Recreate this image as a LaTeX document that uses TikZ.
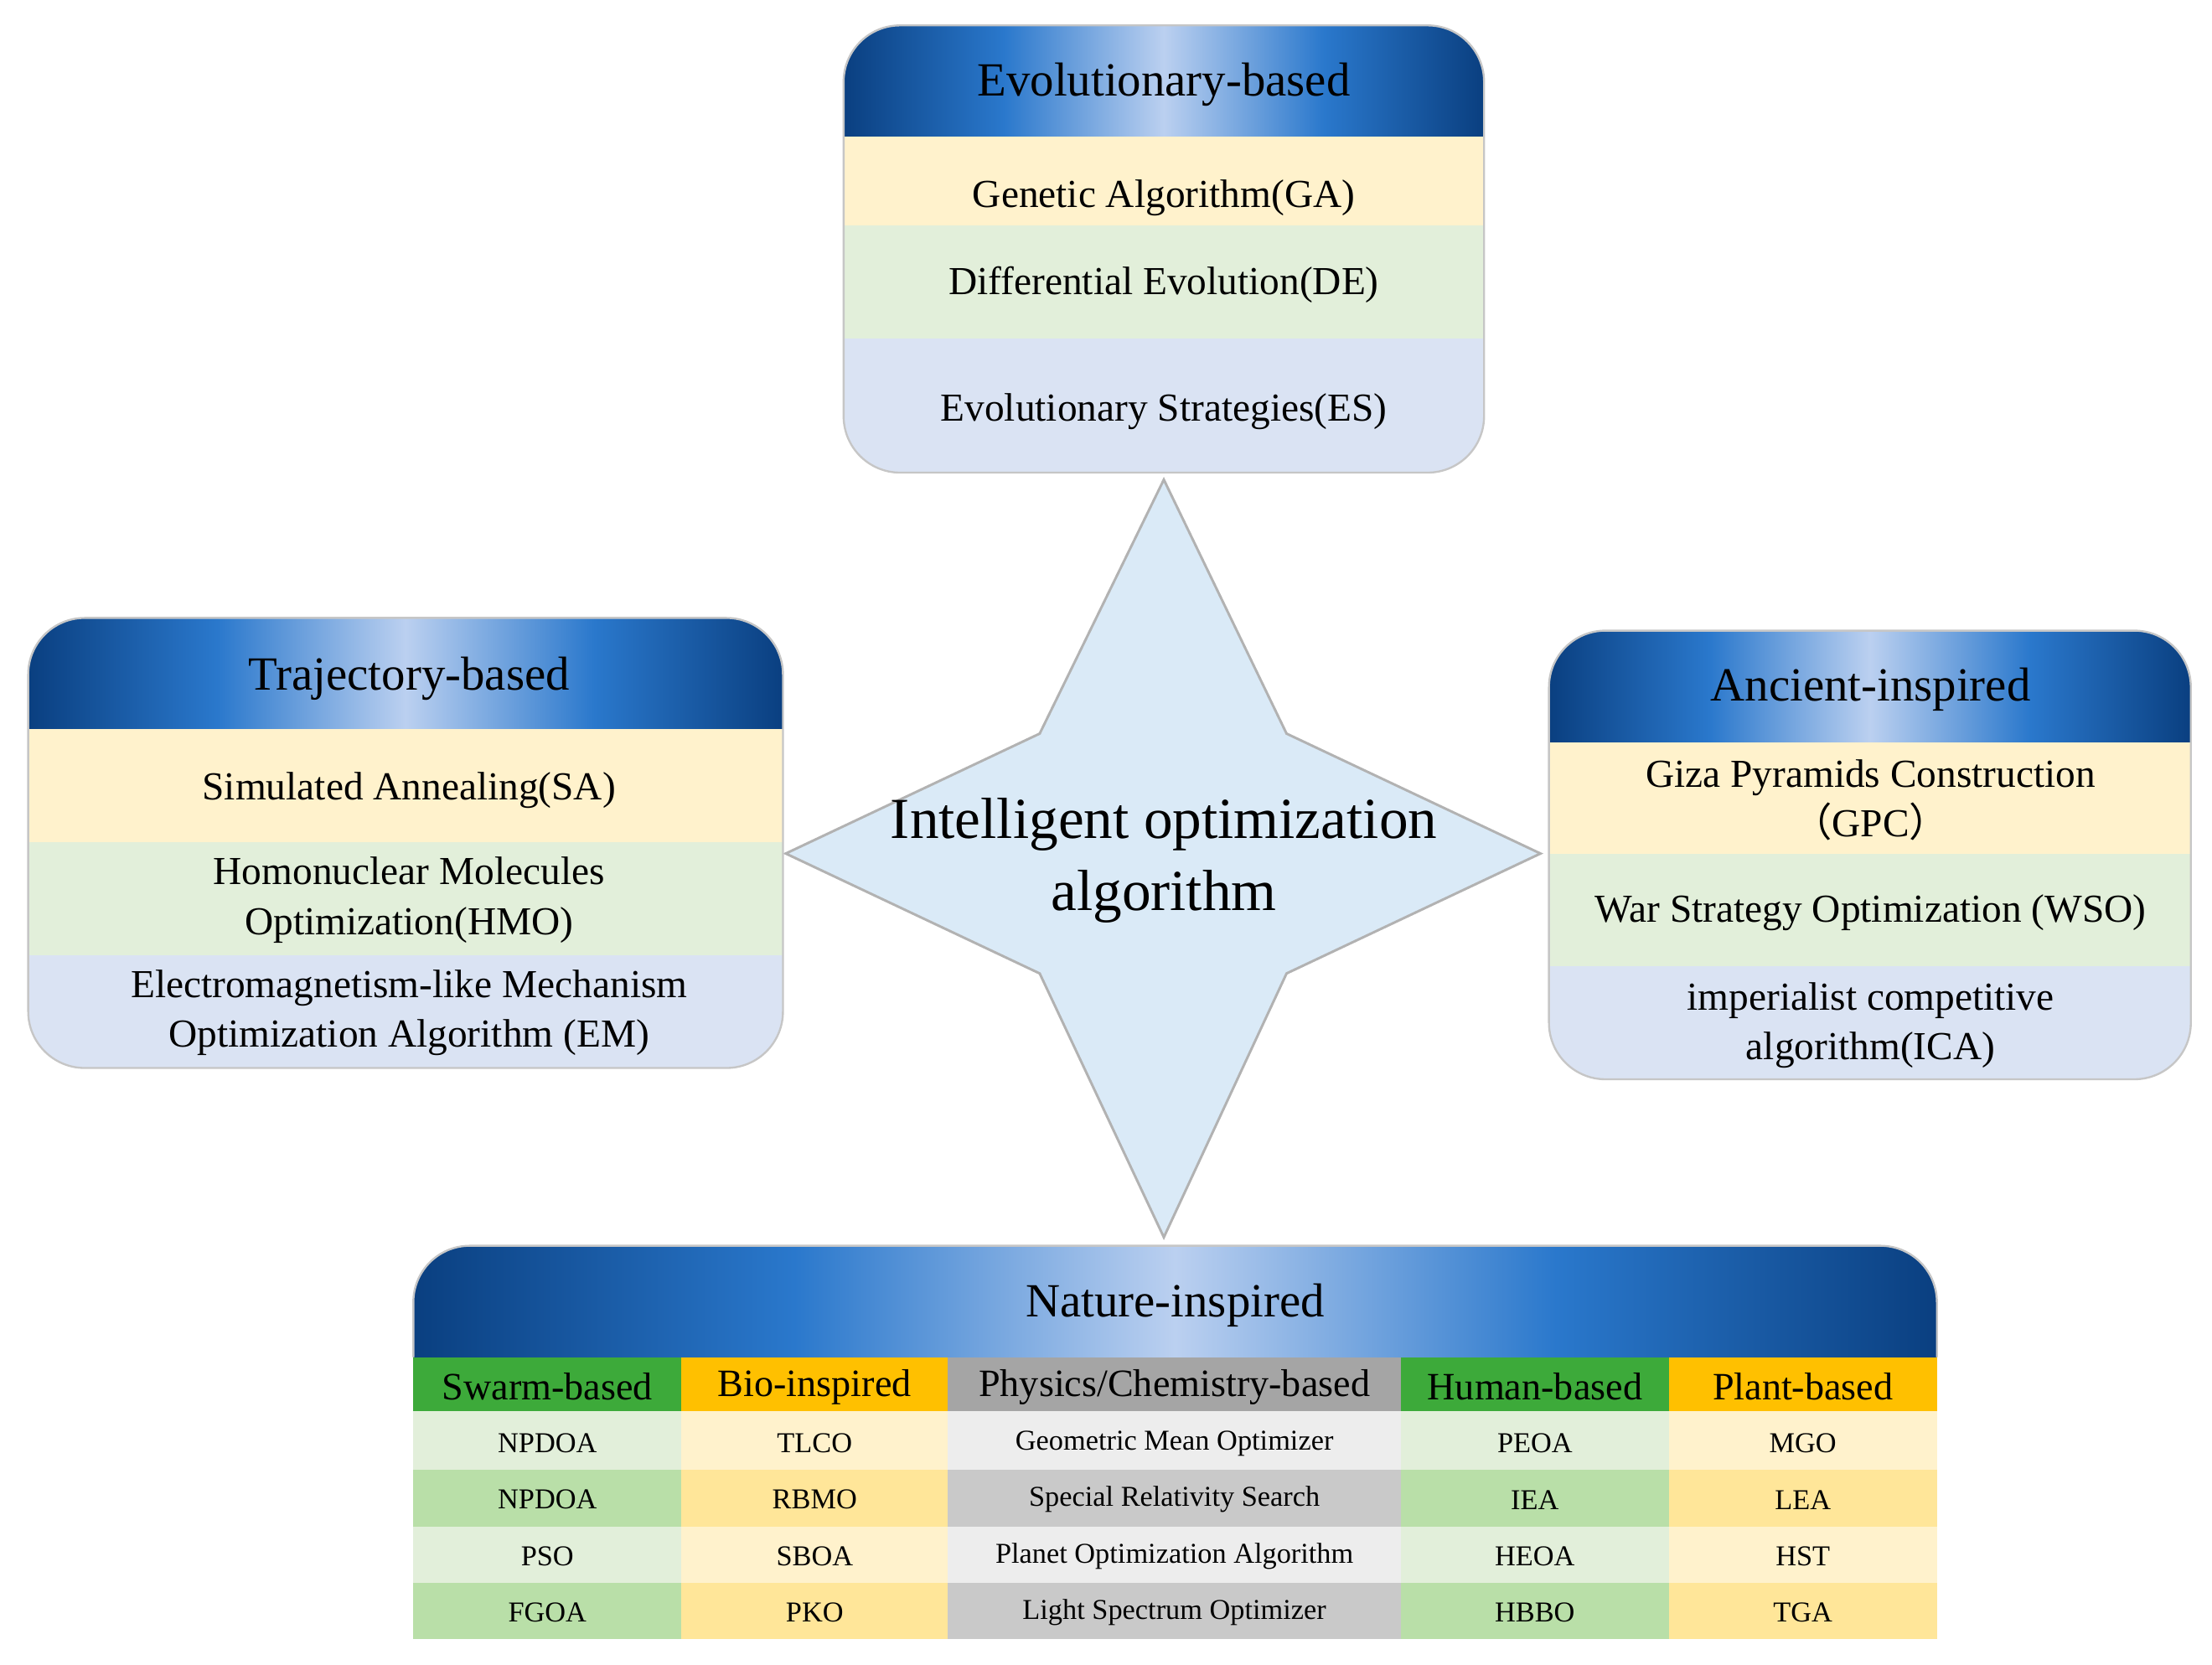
\documentclass[tikz,border=0pt]{standalone}
\usepackage{fontspec}
\setmainfont{Liberation Serif}
\newfontfamily\cjkf{Noto Sans CJK SC}
\definecolor{dk}{HTML}{0A3F80}
\definecolor{md}{HTML}{2A78CC}
\definecolor{lt}{HTML}{BBD0F0}
\definecolor{ry}{HTML}{FFF2CC}
\definecolor{rg}{HTML}{E2EFDA}
\definecolor{rb}{HTML}{DAE3F3}
\definecolor{g1}{HTML}{E2EFDA}\definecolor{g2}{HTML}{B9DFA8}\definecolor{gh}{HTML}{3DAA3A}
\definecolor{y1}{HTML}{FFF2CC}\definecolor{y2}{HTML}{FFE699}\definecolor{yh}{HTML}{FFC000}
\definecolor{p1}{HTML}{EDEDED}\definecolor{p2}{HTML}{C9C9C9}\definecolor{ph}{HTML}{A5A5A5}
\definecolor{star}{HTML}{DAEAF7}
\pgfdeclarehorizontalshading{hdr}{100bp}{color(0bp)=(dk); color(25bp)=(dk); color(37.5bp)=(md); color(50bp)=(lt); color(62.5bp)=(md); color(75bp)=(dk); color(100bp)=(dk)}
\tikzset{
  ttl/.style={font=\fontsize{9.6}{11}\selectfont, text=black},
  itm/.style={font=\fontsize{8}{10}\selectfont, align=center, text=black},
  cell/.style={font=\fontsize{5.8}{7}\selectfont, text=black},
  colh/.style={font=\fontsize{7.8}{9}\selectfont, text=black},
}
\newcommand{\catbox}[7]{%
  \begin{scope}
    \clip[rounded corners=0.4cm] (#1,#2) rectangle (#3,#7);
    \shade[shading=hdr] (#1,#2) rectangle (#3,#4);
    \fill[ry] (#1,#4) rectangle (#3,#5);
    \fill[rg] (#1,#5) rectangle (#3,#6);
    \fill[rb] (#1,#6) rectangle (#3,#7);
  \end{scope}
  \draw[gray!45, rounded corners=0.4cm, line width=0.4pt] (#1,#2) rectangle (#3,#7);}
\begin{document}
\begin{tikzpicture}[x=0.01cm,y=-0.01cm]
\useasboundingbox (0,0) rectangle (1568,1180);
\draw[gray!60, fill=star, line width=0.5pt] (825,340) -- (912,520) -- (1092,605) -- (912,690) -- (825,877) -- (737,690) -- (557,605) -- (737,520) -- cycle;
\node[font=\fontsize{11.7}{14.5}\selectfont, align=center] (center) at (825,610) {Intelligent optimization\\algorithm};
\catbox{598}{18}{1052}{97}{160}{240}{335}
\node[ttl] (evo) at (825,60) {Evolutionary-based};
\node[itm] (ga) at (825,140) {Genetic Algorithm(GA)};
\node[itm] (de) at (825,202) {Differential Evolution(DE)};
\node[itm] (es) at (825,292) {Evolutionary Strategies(ES)};
\catbox{20}{438}{555}{517}{597}{677}{757}
\node[ttl] (tra) at (290,481) {Trajectory-based};
\node[itm] (sa) at (290,560) {Simulated Annealing(SA)};
\node[itm] (hmo) at (290,638) {Homonuclear Molecules\\Optimization(HMO)};
\node[itm] (em) at (290,718) {Electromagnetism-like Mechanism\\Optimization Algorithm (EM)};
\catbox{1098}{447}{1553}{526}{605}{685}{765}
\node[ttl] (anc) at (1326,489) {Ancient-inspired};
\node[itm] (gpc) at (1326,567) {Giza Pyramids Construction\\{\cjkf （}GPC{\cjkf ）}};
\node[itm] (wso) at (1326,647) {War Strategy Optimization (WSO)};
\node[itm] (ica) at (1326,727) {imperialist competitive\\algorithm(ICA)};
\begin{scope}
  \clip[rounded corners=0.4cm] (293,883) -- (1373,883) -- (1373,1162) -- (293,1162) -- cycle;
  \shade[shading=hdr] (293,883) rectangle (1373,962);
\end{scope}
\fill[white] (293,962) rectangle (1373,1162);
\draw[gray!45, line width=0.4pt, rounded corners=0.4cm] (293,962) -- (293,883) -- (1373,883) -- (1373,962);
\node[ttl] (nat) at (833,925) {Nature-inspired};
\foreach \xa/\xb/\h/\ca/\cb/\name/\la/\lb/\lc/\ld/\id in {
 293/483/gh/g1/g2/Swarm-based/NPDOA/NPDOA/PSO/FGOA/a,
 483/672/yh/y1/y2/Bio-inspired/TLCO/RBMO/SBOA/PKO/b,
 672/993/ph/p1/p2/Physics\slash Chemistry-based/Geometric Mean Optimizer/Special Relativity Search/Planet Optimization Algorithm/Light Spectrum Optimizer/c,
 993/1183/gh/g1/g2/Human-based/PEOA/IEA/HEOA/HBBO/d,
 1183/1373/yh/y1/y2/Plant-based/MGO/LEA/HST/TGA/e}{
  \fill[\h] (\xa,962) rectangle (\xb,1000);
  \fill[\ca] (\xa,1000) rectangle (\xb,1042);
  \fill[\cb] (\xa,1042) rectangle (\xb,1082);
  \fill[\ca] (\xa,1082) rectangle (\xb,1122);
  \fill[\cb] (\xa,1122) rectangle (\xb,1162);
  \node[colh] (h\id) at ({(\xa+\xb)/2},983) {\name};
  \node[cell] (r1\id) at ({(\xa+\xb)/2},1023) {\la};
  \node[cell] (r2\id) at ({(\xa+\xb)/2},1063) {\lb};
  \node[cell] (r3\id) at ({(\xa+\xb)/2},1103) {\lc};
  \node[cell] (r4\id) at ({(\xa+\xb)/2},1143) {\ld};
}
\end{tikzpicture}
\end{document}
